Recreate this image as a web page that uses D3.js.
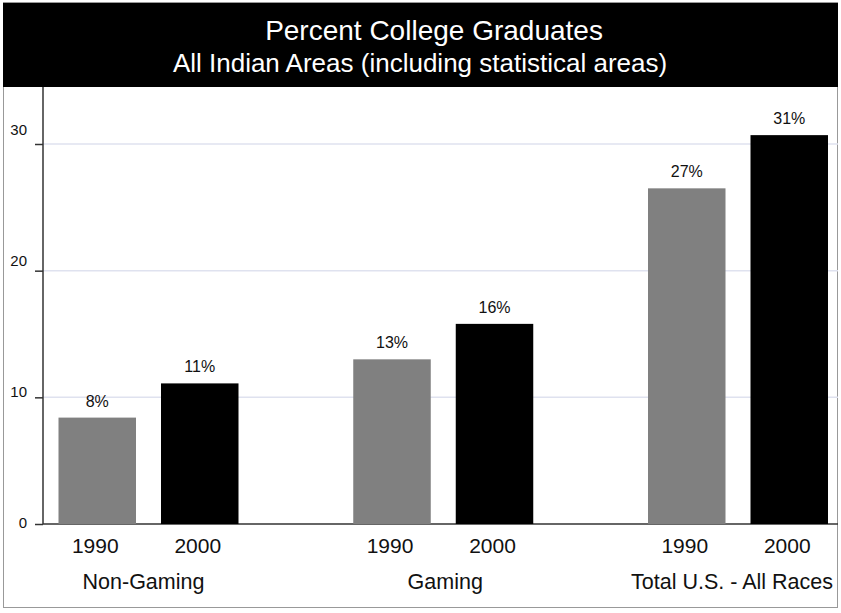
<!DOCTYPE html>
<html><head><meta charset="utf-8">
<script src="https://cdn.jsdelivr.net/npm/d3@7"></script>
<style>html,body{margin:0;padding:0;background:#fff}svg{display:block;font-family:"Liberation Sans",Arial,sans-serif}</style>
</head><body>
<script>
const groups = ["Non-Gaming", "Gaming", "Total U.S. - All Races"];
const years = ["1990", "2000"];
const values1990 = [8.4, 13.0, 26.5];
const values2000 = [11.1, 15.8, 30.7];
const valueLabels1990 = ["8%", "13%", "27%"];
const valueLabels2000 = ["11%", "16%", "31%"];
const yTicks = [0, 10, 20, 30];
const title = "Percent College Graduates";
const subtitle = "All Indian Areas (including statistical areas)";

const W = 841, H = 613;
const svg = d3.select("body").append("svg").attr("width", W).attr("height", H);

// frame
svg.append("rect").attr("x", 3.5).attr("y", 2.5).attr("width", 834).attr("height", 605)
  .attr("fill", "#fff").attr("stroke", "#999").attr("stroke-width", 1);
svg.append("rect").attr("x", 3).attr("y", 3).attr("width", 835).attr("height", 84).attr("fill", "#000");
svg.append("text").attr("x", 434).attr("y", 40).attr("text-anchor", "middle")
  .attr("font-size", 28).attr("fill", "#fff").text(title);
svg.append("text").attr("x", 420).attr("y", 72).attr("text-anchor", "middle")
  .attr("font-size", 26).attr("fill", "#fff").text(subtitle);

const y = d3.scaleLinear().domain([0, 30]).range([524, 144]);
const yLabel = d3.scaleLinear().domain([0, 30]).range([523, 130]);
const xLeft = 43, xRight = 838;

const gx = d3.scalePoint().domain(groups).range([148.5, 738]);
const inner = d3.scaleBand().domain(years).range([-90, 90]).paddingInner(25 / 102.5);
const groupLabelShift = [-5, 2, -6];

// gridlines
svg.append("g").selectAll("line").data(yTicks.filter(d => d > 0)).join("line")
  .attr("x1", xLeft).attr("x2", xRight).attr("y1", d => y(d)).attr("y2", d => y(d))
  .attr("stroke", "#dfe2ef").attr("stroke-width", 1.5);

// y axis
const yAxis = d3.axisLeft(y).tickValues(yTicks).tickSize(8).tickFormat("");
const ga = svg.append("g").attr("transform", `translate(${xLeft},0)`).call(yAxis);
ga.select(".domain").remove();
ga.selectAll(".tick line").attr("stroke", "#333").attr("stroke-width", 1.5);
svg.append("line").attr("x1", xLeft).attr("x2", xLeft).attr("y1", 87).attr("y2", y(0))
  .attr("stroke", "#333").attr("stroke-width", 1.5);
svg.append("line").attr("x1", xLeft).attr("x2", xRight).attr("y1", y(0)).attr("y2", y(0))
  .attr("stroke", "#333").attr("stroke-width", 1.5);
svg.append("g").selectAll("text").data(yTicks).join("text")
  .attr("x", 27).attr("y", d => yLabel(d)).attr("dy", "0.35em").attr("text-anchor", "end")
  .attr("font-size", 15).attr("fill", "#111").text(d => d);

// bars
const rows = [];
groups.forEach((g, i) => {
  rows.push({g, yr: "1990", v: values1990[i], lab: valueLabels1990[i], color: "#808080"});
  rows.push({g, yr: "2000", v: values2000[i], lab: valueLabels2000[i], color: "#000000"});
});
svg.append("g").selectAll("rect").data(rows).join("rect")
  .attr("x", d => gx(d.g) + inner(d.yr)).attr("width", inner.bandwidth())
  .attr("y", d => y(d.v)).attr("height", d => y(0) - y(d.v)).attr("fill", d => d.color);
svg.append("g").selectAll("text").data(rows).join("text")
  .attr("x", d => gx(d.g) + inner(d.yr) + inner.bandwidth() / 2)
  .attr("y", d => y(d.v) - 11).attr("text-anchor", "middle")
  .attr("font-size", 16).attr("fill", "#111").text(d => d.lab);

// x labels
svg.append("g").selectAll("text").data(rows).join("text")
  .attr("x", d => gx(d.g) + inner(d.yr) + inner.bandwidth() / 2 - 2)
  .attr("y", 553).attr("text-anchor", "middle")
  .attr("font-size", 21).attr("fill", "#111").text(d => d.yr);
svg.append("g").selectAll("text").data(groups).join("text")
  .attr("x", (d, i) => gx(d) + groupLabelShift[i]).attr("y", 589).attr("text-anchor", "middle")
  .attr("font-size", 21.5).attr("fill", "#111").text(d => d);
</script>
</body></html>
